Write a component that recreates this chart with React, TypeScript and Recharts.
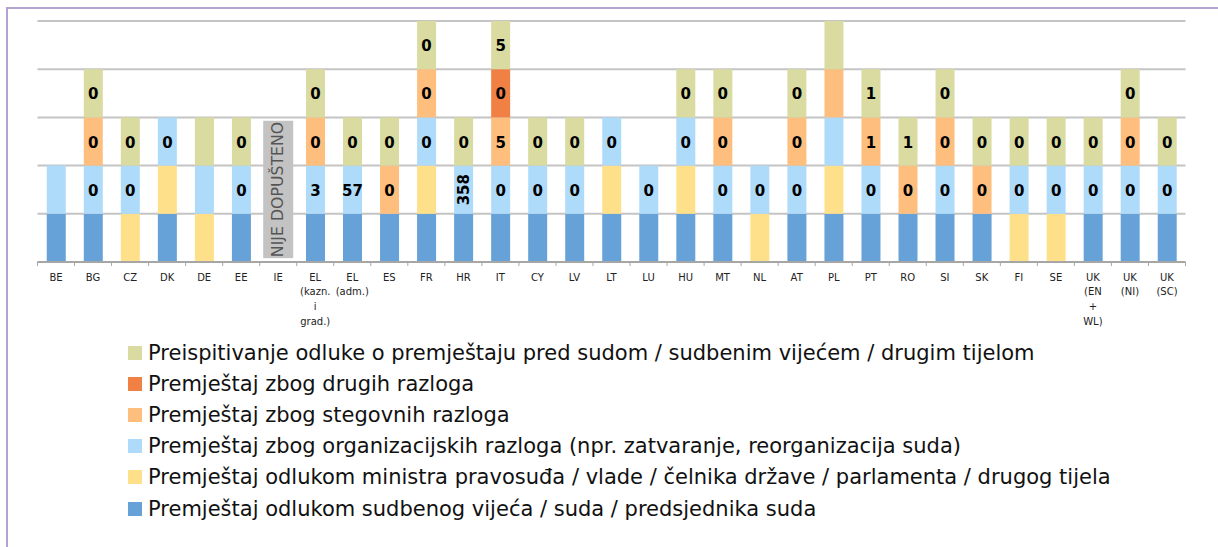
import React from 'react';
import { BarChart, Bar, XAxis, YAxis, CartesianGrid, LabelList, ReferenceArea } from 'recharts';

// categories (tick label lines)
const categories = [
  'BE', 'BG', 'CZ', 'DK', 'DE', 'EE', 'IE', 'EL (kazn. i grad.)', 'EL (adm.)', 'ES', 'FR', 'HR', 'IT', 'CY', 'LV',
  'LT', 'LU', 'HU', 'MT', 'NL', 'AT', 'PL', 'PT', 'RO', 'SI', 'SK', 'FI', 'SE', 'UK (EN + WL)', 'UK (NI)', 'UK (SC)',
];
const tickLines: Record<string, string[]> = {
  'EL (kazn. i grad.)': ['EL', '(kazn.', 'i', 'grad.)'],
  'EL (adm.)': ['EL', '(adm.)'],
  'UK (EN + WL)': ['UK', '(EN', '+', 'WL)'],
  'UK (NI)': ['UK', '(NI)'],
  'UK (SC)': ['UK', '(SC)'],
};

// stacked segments, bottom to top (1 = present)
const courtVals = [1, 1, 0, 1, 0, 1, 0, 1, 1, 1, 1, 1, 1, 1, 1, 1, 1, 1, 1, 0, 1, 1, 1, 1, 1, 1, 0, 0, 1, 1, 1];
const ministerVals = [0, 0, 1, 1, 1, 0, 0, 0, 0, 0, 1, 0, 0, 0, 0, 1, 0, 1, 0, 1, 0, 1, 0, 0, 0, 0, 1, 1, 0, 0, 0];
const orgVals = [1, 1, 1, 1, 1, 1, 0, 1, 1, 0, 1, 1, 1, 1, 1, 1, 1, 1, 1, 1, 1, 1, 1, 0, 1, 0, 1, 1, 1, 1, 1];
const discVals = [0, 1, 0, 0, 0, 0, 0, 1, 0, 1, 1, 0, 1, 0, 0, 0, 0, 0, 1, 0, 1, 1, 1, 1, 1, 1, 0, 0, 0, 1, 0];
const otherVals = [0, 0, 0, 0, 0, 0, 0, 0, 0, 0, 0, 0, 1, 0, 0, 0, 0, 0, 0, 0, 0, 0, 0, 0, 0, 0, 0, 0, 0, 0, 0];
const reviewVals = [0, 1, 1, 0, 1, 1, 0, 1, 1, 1, 1, 1, 1, 1, 1, 0, 0, 1, 1, 0, 1, 1, 1, 1, 1, 1, 1, 1, 1, 1, 1];

// numbers printed inside the segments
const orgLabels = ['', '0', '0', '0', '', '0', '', '3', '57', '', '0', '358', '0', '0', '0', '0', '0', '0', '0', '0', '0', '', '0', '', '0', '', '0', '0', '0', '0', '0'];
const discLabels = ['', '0', '', '', '', '', '', '0', '', '0', '0', '', '5', '', '', '', '', '', '0', '', '0', '', '1', '0', '0', '0', '', '', '', '0', ''];
const otherLabels = ['', '', '', '', '', '', '', '', '', '', '', '', '0', '', '', '', '', '', '', '', '', '', '', '', '', '', '', '', '', '', ''];
const reviewLabels = ['', '0', '0', '', '', '0', '', '0', '0', '0', '0', '0', '5', '0', '0', '', '', '0', '0', '', '0', '', '1', '1', '0', '0', '0', '0', '0', '0', '0'];

// IE: not permitted
const noteCategory = 'IE';
const noteText = 'NIJE  DOPUŠTENO';
const noteSpan = [0.08, 2.93];

const series = [
  { key: 'court', name: 'Premještaj odlukom sudbenog vijeća / suda / predsjednika suda', color: '#66A2D7', vals: courtVals, labels: null },
  { key: 'minister', name: 'Premještaj odlukom ministra pravosuđa / vlade / čelnika države / parlamenta / drugog tijela', color: '#FEE08A', vals: ministerVals, labels: null },
  { key: 'org', name: 'Premještaj zbog organizacijskih razloga (npr. zatvaranje, reorganizacija suda)', color: '#AEDBFA', vals: orgVals, labels: orgLabels },
  { key: 'disc', name: 'Premještaj zbog stegovnih razloga', color: '#FEBE7E', vals: discVals, labels: discLabels },
  { key: 'other', name: 'Premještaj zbog drugih razloga', color: '#F18045', vals: otherVals, labels: otherLabels },
  { key: 'review', name: 'Preispitivanje odluke o premještaju pred sudom / sudbenim vijećem / drugim tijelom', color: '#D9DBA0', vals: reviewVals, labels: reviewLabels },
];

const data = categories.map((cat, i) => {
  const row: Record<string, any> = { cat };
  series.forEach((s) => {
    row[s.key] = s.vals[i];
    row[s.key + 'Label'] = s.labels ? s.labels[i] : '';
  });
  return row;
});

const FONT = "'DejaVu Sans', Verdana, sans-serif";

const SegmentLabel = (props: any) => {
  const { x, y, width, height, value } = props;
  if (!value) return null;
  const cx = Number(x) + Number(width) / 2;
  const cy = Number(y) + Number(height) / 2;
  // long numbers are written vertically
  if (String(value).length > 2) {
    return (
      <text x={cx} y={cy} transform={`rotate(-90 ${cx} ${cy})`} textAnchor="middle" dominantBaseline="central"
        fontFamily={FONT} fontWeight="bold" fontSize={15} fill="#000">{value}</text>
    );
  }
  return (
    <text x={cx} y={cy + 1} textAnchor="middle" dominantBaseline="central"
      fontFamily={FONT} fontWeight="bold" fontSize={15} fill="#000">{value}</text>
  );
};

const AxisTick = (props: any) => {
  const { x, y, payload, index, visibleTicksCount, width } = props;
  const step = width && visibleTicksCount ? width / visibleTicksCount : 37.03;
  const lines = tickLines[payload.value] || [payload.value];
  return (
    <g>
      <line x1={x - step / 2} x2={x - step / 2} y1={y} y2={y + 4} stroke="#A6A6A6" strokeWidth={1} />
      {index === visibleTicksCount - 1 && (
        <line x1={x + step / 2} x2={x + step / 2} y1={y} y2={y + 4} stroke="#A6A6A6" strokeWidth={1} />
      )}
      <text x={x} y={y + 18.5} textAnchor="middle" fontFamily={FONT} fontSize={10} fill="#222">
        {lines.map((l, i) => (
          <tspan key={i} x={x} dy={i === 0 ? 0 : 14.7}>{l}</tspan>
        ))}
      </text>
    </g>
  );
};

const NoteShape = (props: any) => {
  const { x, y, width, height } = props;
  const w = 30;
  const bx = x + (width - w) / 2;
  const cx = x + width / 2;
  const cy = y + height / 2;
  return (
    <g>
      <rect x={bx} y={y} width={w} height={height} fill="#C3C3C3" />
      <text x={cx} y={cy} transform={`rotate(-90 ${cx} ${cy})`} textAnchor="middle" dominantBaseline="central"
        fontFamily={FONT} fontSize={15} fill="#555" textLength={height - 2} lengthAdjust="spacingAndGlyphs">
        {noteText}
      </text>
    </g>
  );
};

const App: React.FC = () => {
  const legendItems = [...series].reverse();
  return (
    <div style={{ position: 'absolute', left: 0, top: 0, width: 1218, height: 547, background: '#fff', overflow: 'hidden' }}>
      <div style={{ position: 'absolute', left: 6, top: 7, right: 0, bottom: 0, borderLeft: '2px solid #B5A3CF', borderTop: '2px solid #B5A3CF' }} />
      <div style={{ position: 'absolute', left: 0, top: 0 }}>
        <BarChart width={1218} height={330} data={data} barCategoryGap="25%"
          margin={{ top: 21, right: 32.5, bottom: 8, left: 37.5 }}>
          <CartesianGrid vertical={false} stroke="#C4C4C4" strokeWidth={2} />
          <XAxis dataKey="cat" interval={0} height={60} tickSize={0} tickMargin={0} tickLine={false}
            axisLine={{ stroke: '#A6A6A6', strokeWidth: 2 }} tick={<AxisTick />} />
          <YAxis hide domain={[0, 5]} ticks={[0, 1, 2, 3, 4, 5]} />
          {series.map((s) => (
            <Bar key={s.key} dataKey={s.key} stackId="a" fill={s.color} isAnimationActive={false}>
              {s.labels && <LabelList dataKey={s.key + 'Label'} content={<SegmentLabel />} />}
            </Bar>
          ))}
          <ReferenceArea x1={noteCategory} x2={noteCategory} y1={noteSpan[0]} y2={noteSpan[1]}
            ifOverflow="visible" shape={<NoteShape />} />
        </BarChart>
      </div>
      <div style={{ position: 'absolute', left: 128, top: 337 }}>
        {legendItems.map((s) => (
          <div key={s.key} style={{ display: 'flex', alignItems: 'center', height: 31.2 }}>
            <span style={{ display: 'inline-block', width: 14, height: 14, background: s.color, marginRight: 6 }} />
            <span style={{ fontFamily: FONT, fontSize: 21, color: '#111', whiteSpace: 'nowrap' }}>
              {s.name}
            </span>
          </div>
        ))}
      </div>
    </div>
  );
};

export default App;
